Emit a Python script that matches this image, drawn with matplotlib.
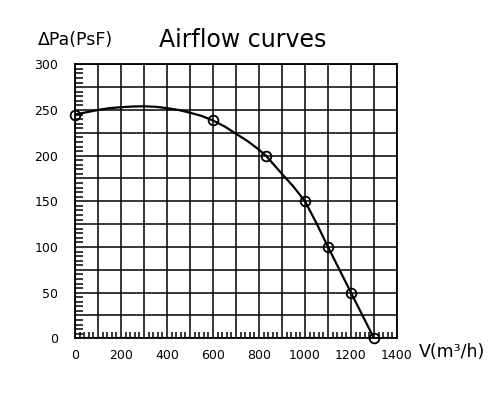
import matplotlib
matplotlib.use("Agg")
import matplotlib.pyplot as plt
from matplotlib.ticker import MultipleLocator, FuncFormatter

# measured points (circles)
flow_pts = [0, 600, 830, 1000, 1100, 1200, 1300]
pres_pts = [245, 238.5, 200, 150, 100, 50, 0]

# curve
flow_curve = [0, 50, 100, 150, 200, 250, 300, 350, 400, 450, 500, 550, 600,
              650, 700, 750, 800, 830, 900, 950, 1000, 1050, 1100, 1200, 1300]
pres_curve = [245, 247.5, 250, 252, 253, 253.8, 254, 253.5, 252, 250, 247, 243.5, 238.5,
              232, 224, 216, 206.5, 200, 180, 166, 150, 126, 100, 50, 0]

plt.rcParams['font.family'] = ['DejaVu Sans']

fig = plt.figure(figsize=(5.03, 3.99), dpi=100)
ax = fig.add_axes([75/503, 1 - 338.3/399, 322/503, 274/399])

ax.plot(flow_curve, pres_curve, color='black', linewidth=1.6, zorder=3)
ax.plot(flow_pts, pres_pts, 'o', markersize=7, markerfacecolor='none',
        markeredgecolor='black', markeredgewidth=1.3, zorder=4, clip_on=False)

ax.set_xlim(0, 1400)
ax.set_ylim(0, 300)
ax.xaxis.set_major_locator(MultipleLocator(100))
ax.xaxis.set_minor_locator(MultipleLocator(20))
ax.yaxis.set_major_locator(MultipleLocator(25))
ax.yaxis.set_minor_locator(MultipleLocator(5))
ax.xaxis.set_major_formatter(FuncFormatter(lambda v, p: '%d' % v if v % 200 == 0 else ''))
ax.yaxis.set_major_formatter(FuncFormatter(lambda v, p: '%d' % v if v % 50 == 0 else ''))
ax.tick_params(which='major', length=0, labelsize=9)
ax.tick_params(axis='x', which='major', pad=8)
ax.tick_params(axis='y', which='major', pad=12)
ax.tick_params(which='minor', direction='in', length=4, width=1.1)
ax.tick_params(axis='y', which='minor', length=6)
ax.grid(True, which='major', color='black', linewidth=1.1)
for s in ax.spines.values():
    s.set_linewidth(1.3)

fig.text(38/503, 1 - 40/399, 'ΔPa(PsF)', fontsize=12.5, ha='left', va='center')
fig.text(243/503, 1 - 40/399, 'Airflow curves', fontsize=17, ha='center', va='center')
fig.text(419/503, 1 - 352/399, 'V(m³/h)', fontsize=12.5, ha='left', va='center')

fig.savefig('out.png', dpi=100)
